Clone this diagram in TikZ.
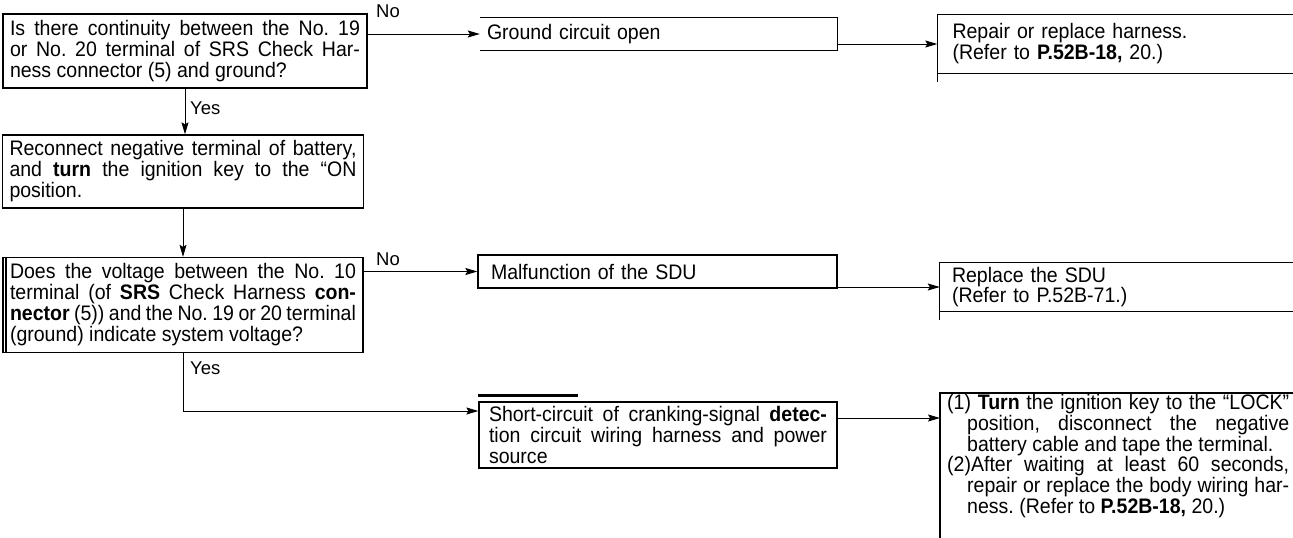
\documentclass[tikz,border=0pt]{standalone}
\usepackage{fontspec}
\setmainfont[FakeStretch=0.93]{Liberation Sans}
\newfontfamily\lfont{Liberation Sans}
\usetikzlibrary{arrows.meta}
\frenchspacing
\begin{document}
\begin{tikzpicture}[x=1pt,y=-1pt,
  txt/.style={font=\frenchspacing\fontsize{21}{21}\selectfont, inner xsep=7pt, inner ysep=0pt, align=justify},
  boxd/.style={txt, draw, line width=1.3pt},
  boxn/.style={txt, draw=none},
  brd/.style={line width=1.3pt},
  arr/.style={line width=0.9pt, -{Stealth[length=12pt,width=7pt,inset=2pt]}},
  lbl/.style={font=\lfont\fontsize{18.5}{20}\selectfont, inner sep=0pt}]
\useasboundingbox (0,0) rectangle (1293,538);

% left column
\node[boxd, minimum width=364pt, minimum height=74pt, text width=350pt] (q1) at (185,51)
 {Is there continuity between the No. 19\linebreak or No. 20 terminal of SRS Check Har-\linebreak ness connector (5) and ground?};
\node[boxd, minimum width=361pt, minimum height=73pt, text width=347pt] (a1) at (183,171.5)
 {Reconnect negative terminal of battery,\linebreak and \textbf{turn} the ignition key to the “ON\linebreak position.};
\node[boxd, minimum width=360pt, minimum height=95pt, text width=346pt] (q2) at (183,305)
 {Does the voltage between the No. 10\linebreak terminal (of \textbf{SRS} Check Harness \textbf{con-}\linebreak \textbf{nector} (5)) and the No. 19 or 20 terminal\linebreak (ground) indicate system voltage?};
\draw[brd] ([xshift=3.5pt]q2.north west) -- ([xshift=3.5pt]q2.south west);

% middle column
\node[boxn, minimum width=357pt, minimum height=32pt, text width=343pt, align=left] (r1) at (658.5,34)
 {Ground circuit open};
\draw[brd] (r1.north west) -- (r1.north east) -- (r1.south east) -- (r1.south west);
\node[boxd, minimum width=359pt, minimum height=33pt, text width=333pt, align=left, inner xsep=12pt] (m1) at (657.5,271.5)
 {Malfunction of the SDU};
\node[boxd, minimum width=358pt, minimum height=66pt, text width=338pt, inner xsep=10pt] (s1) at (658,435)
 {Short-circuit of cranking-signal \textbf{detec-}\linebreak tion circuit wiring harness and power\linebreak source};
\draw[line width=3pt] ([yshift=6pt]s1.north west) -- ++(100,0);

% right column
\node[boxn, minimum width=351pt, minimum height=58pt, text width=330pt, align=left, inner xsep=15pt] (r2) at (1117.5,44)
 {Repair or replace harness.\\(Refer to \textbf{P.52B-18,} 20.)};
\draw[brd] (r2.north east) -- (r2.north west) -- ([yshift=-9pt]r2.south west);
\draw[brd] (r2.south west) -- (r2.south east);
\node[boxn, minimum width=353pt, minimum height=48pt, text width=329pt, align=left, inner xsep=12pt,
  font=\fontsize{21}{15}\selectfont] (r3) at (1116.5,287)
 {Replace the SDU\\(Refer to P.52B-71.)};
\draw[brd] (r3.north east) -- (r3.north west) -- ([yshift=-9pt]r3.south west);
\draw[brd] (r3.south west) -- (r3.south east);
\node[boxn, anchor=north west, text width=342pt, inner xsep=7pt, font=\frenchspacing\fontsize{21}{20.8}\selectfont] (r4) at (940,394)
 {\hangindent=20pt\hangafter=1 (1) \textbf{Turn} the ignition key to the “LOCK”\linebreak position, disconnect the negative\linebreak battery cable and tape the terminal.\par
  \hangindent=20pt\hangafter=1 (2)After waiting at least 60 seconds,\linebreak repair or replace the body wiring har-\linebreak ness. (Refer to \textbf{P.52B-18,} 20.)\par};
\coordinate (r4top) at (940,393);
\coordinate (r4bot) at (940,538);
\draw[brd] (1293,393) -- (r4top) -- (r4bot);

% connectors
\draw[arr] (q1.east |- r1.west) -- (r1.west);
\node[lbl, anchor=south west] (no1) at (376,18) {No};
\draw[arr] (q1.south) -- (q1.south |- a1.north);
\node[lbl, anchor=west] (yes1) at (190,108) {Yes};
\draw[arr] (a1.south) -- (a1.south |- q2.north);
\draw[arr] (q2.east |- m1.west) -- (m1.west);
\node[lbl, anchor=south west] (no2) at (376,266) {No};
\coordinate (s1in) at ([yshift=24pt]s1.west);
\draw[arr] (q2.south) |- (s1in);
\node[lbl, anchor=west] (yes2) at (190,368) {Yes};

\draw[arr] (r1.east |- r2.west) -- (r2.west);
\draw[arr] (m1.east |- r3.west) -- (r3.west);
\coordinate (s1out) at ([yshift=17pt]s1.east);
\draw[arr] (s1out) -- (s1out -| r4top);
\end{tikzpicture}
\end{document}
